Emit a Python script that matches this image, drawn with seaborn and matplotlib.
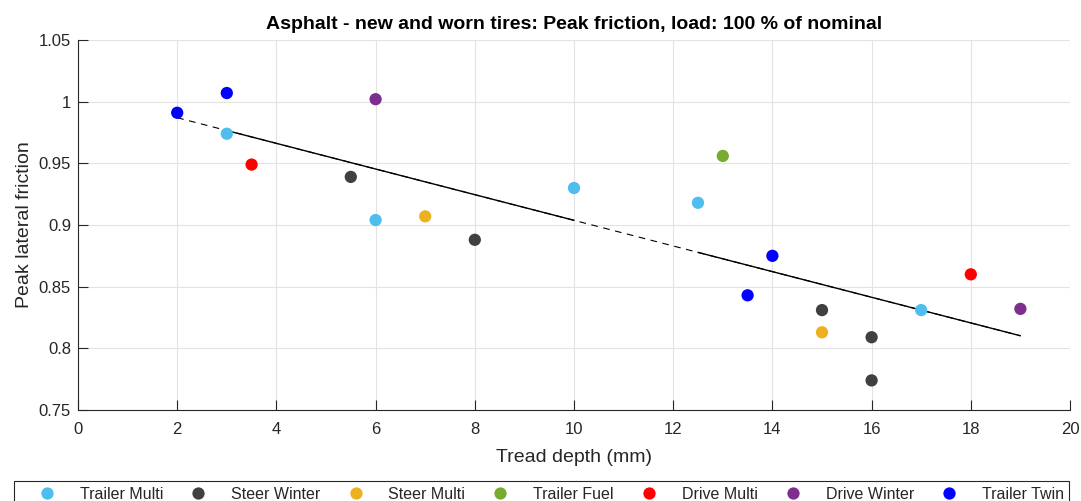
import numpy as np
import pandas as pd
import matplotlib
matplotlib.use("Agg")
import matplotlib.pyplot as plt
from matplotlib.patches import Rectangle
import seaborn as sns

categories = ["Trailer Multi", "Steer Winter", "Steer Multi", "Trailer Fuel",
              "Drive Multi", "Drive Winter", "Trailer Twin"]
colors = ["#4DBEEE", "#404040", "#EDB120", "#77AC30", "#FF0000", "#7E2F8E", "#0000FF"]

trailer_multi_x = [3, 6, 10, 12.5, 17]
trailer_multi_y = [0.974, 0.904, 0.930, 0.918, 0.831]
steer_winter_x = [5.5, 8, 15, 16, 16]
steer_winter_y = [0.939, 0.888, 0.831, 0.809, 0.774]
steer_multi_x = [7, 15]
steer_multi_y = [0.907, 0.813]
trailer_fuel_x = [13]
trailer_fuel_y = [0.956]
drive_multi_x = [3.5, 18]
drive_multi_y = [0.949, 0.860]
drive_winter_x = [6, 19]
drive_winter_y = [1.002, 0.832]
trailer_twin_x = [2, 3, 13.5, 14]
trailer_twin_y = [0.991, 1.007, 0.843, 0.875]

fit_intercept = 1.0078
fit_slope = -0.0104
fit_dashed_x = [2, 19]
fit_solid_segments = [[3, 10], [12.5, 19]]

xs = [trailer_multi_x, steer_winter_x, steer_multi_x, trailer_fuel_x,
      drive_multi_x, drive_winter_x, trailer_twin_x]
ys = [trailer_multi_y, steer_winter_y, steer_multi_y, trailer_fuel_y,
      drive_multi_y, drive_winter_y, trailer_twin_y]
rows = []
for c, xx, yy in zip(categories, xs, ys):
    for a, b in zip(xx, yy):
        rows.append({"Tire": c, "x": a, "y": b})
df = pd.DataFrame(rows)

sns.set_theme(style="white")
plt.rcParams["font.family"] = ["Liberation Sans", "DejaVu Sans"]

fig = plt.figure(figsize=(10.81, 5.01), dpi=100)
ax = fig.add_axes([78/1081, 1 - 410/501, (1070-78)/1081, (410-40)/501])

# fit line
fx = np.array(fit_dashed_x, dtype=float)
ax.plot(fx, fit_intercept + fit_slope*fx, color="black", lw=0.8, ls=(0, (6, 5)), zorder=2)
for seg in fit_solid_segments:
    sx = np.array(seg, dtype=float)
    ax.plot(sx, fit_intercept + fit_slope*sx, color="black", lw=1.0, zorder=2)

sns.scatterplot(data=df, x="x", y="y", hue="Tire", hue_order=categories,
                palette=colors, s=78, edgecolor="none", ax=ax, zorder=3, legend=True)

ax.set_xlim(0, 20)
ax.set_ylim(0.75, 1.05)
ax.set_xticks(np.arange(0, 21, 2))
ax.set_yticks([0.75, 0.8, 0.85, 0.9, 0.95, 1.0, 1.05])
ax.set_yticklabels(["0.75", "0.8", "0.85", "0.9", "0.95", "1", "1.05"])
ax.grid(True, color="#e3e3e3", lw=0.8)
ax.set_axisbelow(True)
for s in ["top", "right"]:
    ax.spines[s].set_visible(False)
for s in ["left", "bottom"]:
    ax.spines[s].set_color("#262626")
    ax.spines[s].set_linewidth(0.8)
ax.tick_params(direction="in", length=7, width=0.8, color="#262626",
               labelsize=12, labelcolor="#262626", left=True, bottom=True)
ax.tick_params(axis="x", pad=9)
ax.tick_params(axis="y", pad=5)
ax.set_xlabel("Tread depth (mm)", fontsize=14, color="#262626", labelpad=8)
ax.set_ylabel("Peak lateral friction", fontsize=14, color="#262626", labelpad=4)
ax.set_title("Asphalt - new and worn tires: Peak friction, load: 100 % of nominal",
             fontsize=14, fontweight="bold", color="black", pad=8)

# legend box (MATLAB-like, extends past figure bottom)
box = Rectangle((14/1081, -0.1), (1069-14)/1081, (1 - 481/501) + 0.1,
                transform=fig.transFigure, facecolor="white", edgecolor="#262626",
                linewidth=0.8, zorder=0)
fig.patches.append(box)

handles, labels = ax.get_legend_handles_labels()
ax.legend_.remove()
leg = fig.legend(handles, labels, loc="upper center", bbox_to_anchor=(551.5/1081, 1 - 481/501),
                 ncol=7, frameon=False, fontsize=11.5, columnspacing=1.7, handletextpad=1.56,
                 handlelength=1.0, borderaxespad=0, markerscale=1.0, borderpad=0.35)

fig.savefig("out.png", dpi=100)
